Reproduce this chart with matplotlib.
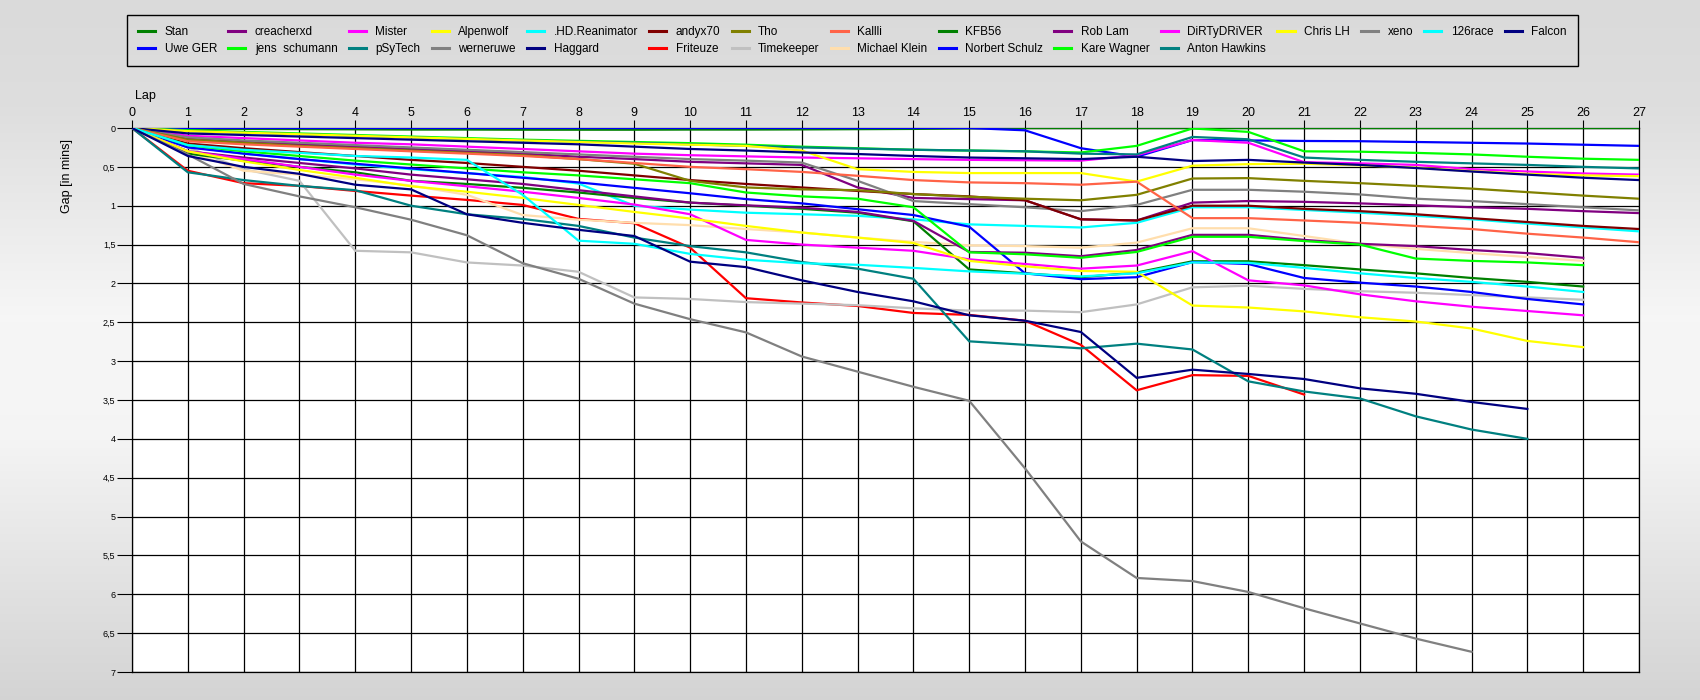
import matplotlib
matplotlib.use("Agg")
import matplotlib.pyplot as plt
import numpy as np

plt.rcParams['font.family'] = ['Liberation Sans', 'DejaVu Sans']

# ---------------- data (gap to leader in minutes, per lap) ----------------
names = ["Stan", "Uwe GER", "creacherxd", "jens  schumann", "Mister", "pSyTech",
         "Alpenwolf", "werneruwe", ".HD.Reanimator", "Haggard", "andyx70", "Friteuze",
         "Tho", "Timekeeper", "Kallli", "Michael Klein", "KFB56", "Norbert Schulz",
         "Rob Lam", "Kare Wagner", "DiRTyDRiVER", "Anton Hawkins", "Chris LH", "xeno",
         "126race", "Falcon"]

colors = ["#008000", "#0000FF", "#800080", "#00FF00", "#FF00FF", "#008080",
          "#FFFF00", "#808080", "#00FFFF", "#000080", "#800000", "#FF0000",
          "#808000", "#C0C0C0", "#FF6347", "#FFDEAD", "#008000", "#0000FF",
          "#800080", "#00FF00", "#FF00FF", "#008080", "#FFFF00", "#808080",
          "#00FFFF", "#000080"]

stan = [0, .01, .012, .015, .017, .02, .02, .022, .022, .022,
        .02, .02, .018, .015, .012, .005, 0, 0, 0, 0,
        0, 0, 0, 0, 0, 0, 0, 0]
uwe = [0, 0, 0, 0, 0, 0, 0, 0, 0, 0,
       0, 0, 0, 0, 0, 0, .03, .26, .37, .155,
       .16, .167, .17, .18, .19, .20, .215, .23]
creacherxd = [0, .13, .17, .21, .24, .27, .30, .33, .37, .40,
              .435, .455, .475, .765, .90, .915, .93, 1.175, 1.19, .96,
              .94, .95, .97, .995, 1.02, 1.04, 1.07, 1.095]
jens = [0, .03, .05, .07, .09, .11, .13, .15, .165, .18,
        .195, .215, .24, .26, .28, .29, .30, .315, .23, .006,
        .05, .30, .305, .32, .34, .37, .395, .41]
mister = [0, .10, .13, .16, .19, .21, .24, .27, .30, .33,
          .35, .365, .38, .39, .40, .41, .415, .42, .35, .155,
          .19, .44, .455, .475, .53, .56, .585, .60]
psytech = [0, .04, .06, .08, .10, .12, .14, .16, .175, .19,
           .21, .23, .25, .265, .28, .29, .30, .33, .34, .115,
           .145, .38, .41, .435, .455, .475, .50, .52]
alpenwolf = [0, .04, .06, .08, .10, .12, .14, .16, .18, .20,
             .215, .23, .29, .53, .565, .58, .58, .58, .69, .485,
             .465, .46, .48, .51, .555, .59, .61, .62]
werneruwe = [0, .12, .16, .19, .22, .25, .28, .31, .34, .37,
             .40, .42, .445, .68, .94, .98, 1.02, 1.07, .99, .795,
             .795, .82, .855, .91, .94, .98, 1.02, 1.06]
hd_reanimator = [0, .24, .33, .40, .47, .53, .58, .63, .715, 1.0,
                 1.05, 1.09, 1.11, 1.13, 1.175, 1.24, 1.26, 1.28, 1.22, 1.02,
                 1.02, 1.055, 1.09, 1.13, 1.175, 1.23, 1.28, 1.33]
haggard = [0, .07, .09, .11, .13, .15, .17, .19, .21, .24,
           .27, .29, .315, .335, .36, .38, .39, .40, .37, .425,
           .41, .445, .475, .515, .56, .60, .64, .67]
andyx70 = [0, .20, .26, .31, .36, .41, .45, .50, .55, .61,
           .67, .72, .765, .81, .85, .88, .93, 1.175, 1.19, 1.0,
           1.0, 1.04, 1.07, 1.11, 1.16, 1.21, 1.26, 1.30]
friteuze = [0, .55, .71, .745, .81, .87, .925, .99, 1.17, 1.225,
            1.54, 2.19, 2.245, 2.29, 2.38, 2.405, 2.48, 2.79, 3.375, 3.18,
            3.19, 3.43]
tho = [0, .15, .19, .23, .26, .29, .32, .35, .40, .46,
       .68, .765, .79, .80, .85, .885, .91, .93, .86, .65,
       .645, .68, .71, .745, .78, .825, .87, .91]
timekeeper = [0, .25, .53, .68, 1.58, 1.60, 1.73, 1.77, 1.85, 2.18,
              2.20, 2.24, 2.26, 2.28, 2.32, 2.35, 2.35, 2.37, 2.27, 2.05,
              2.03, 2.07, 2.10, 2.12, 2.15, 2.18, 2.21]
kallli = [0, .17, .21, .24, .27, .30, .33, .36, .40, .45,
          .50, .53, .565, .615, .67, .70, .71, .73, .69, 1.16,
          1.16, 1.19, 1.22, 1.26, 1.30, 1.36, 1.41, 1.47]
michael_klein = [0, .30, .55, .60, .66, .74, .86, 1.12, 1.18, 1.22,
                 1.25, 1.30, 1.345, 1.41, 1.465, 1.51, 1.52, 1.54, 1.475, 1.29,
                 1.29, 1.39, 1.49, 1.555, 1.61, 1.66, 1.71]
kfb56 = [0, .33, .42, .50, .57, .68, .72, .77, .83, .90,
         .96, 1.0, 1.04, 1.09, 1.20, 1.82, 1.87, 1.92, 1.86, 1.715,
         1.715, 1.765, 1.82, 1.87, 1.93, 1.98, 2.04]
norbert = [0, .25, .33, .40, .46, .52, .58, .64, .70, .77,
           .84, .915, .97, 1.045, 1.12, 1.27, 1.87, 1.945, 1.92, 1.725,
           1.75, 1.93, 1.99, 2.04, 2.11, 2.20, 2.27]
rob_lam = [0, .30, .38, .45, .52, .60, .66, .72, .80, .88,
           .96, .995, 1.025, 1.08, 1.195, 1.595, 1.605, 1.65, 1.57, 1.375,
           1.375, 1.44, 1.49, 1.52, 1.57, 1.61, 1.67]
kare = [0, .22, .30, .36, .42, .47, .52, .57, .61, .66,
        .71, .83, .88, .91, 1.02, 1.60, 1.625, 1.67, 1.595, 1.40,
        1.40, 1.455, 1.50, 1.68, 1.71, 1.73, 1.765]
dirty = [0, .30, .40, .50, .60, .68, .75, .82, .90, .985,
         1.11, 1.44, 1.50, 1.54, 1.58, 1.69, 1.75, 1.81, 1.77, 1.585,
         1.96, 2.025, 2.14, 2.23, 2.30, 2.355, 2.41]
anton = [0, .57, .67, .745, .80, 1.0, 1.11, 1.17, 1.26, 1.41,
         1.52, 1.60, 1.725, 1.81, 1.94, 2.745, 2.79, 2.835, 2.775, 2.85,
         3.26, 3.39, 3.48, 3.71, 3.88, 4.0]
chris = [0, .30, .43, .54, .64, .75, .82, .90, .99, 1.08,
         1.165, 1.26, 1.345, 1.41, 1.48, 1.71, 1.78, 1.84, 1.85, 2.285,
         2.31, 2.36, 2.435, 2.49, 2.58, 2.74, 2.82]
xeno = [0, .34, .72, .88, 1.02, 1.18, 1.38, 1.74, 1.94, 2.26,
        2.46, 2.63, 2.94, 3.135, 3.33, 3.51, 4.38, 5.32, 5.79, 5.83,
        5.97, 6.18, 6.375, 6.57, 6.74]
race126 = [0, .22, .28, .32, .36, .38, .41, .86, 1.45, 1.49,
           1.62, 1.695, 1.74, 1.76, 1.80, 1.845, 1.875, 1.91, 1.87, 1.73,
           1.735, 1.80, 1.87, 1.93, 1.98, 2.04, 2.11]
falcon = [0, .36, .50, .59, .73, .79, 1.11, 1.22, 1.31, 1.39,
          1.72, 1.79, 1.96, 2.11, 2.23, 2.41, 2.48, 2.625, 3.215, 3.11,
          3.165, 3.23, 3.35, 3.42, 3.525, 3.615]

series = [stan, uwe, creacherxd, jens, mister, psytech, alpenwolf, werneruwe,
          hd_reanimator, haggard, andyx70, friteuze, tho, timekeeper, kallli,
          michael_klein, kfb56, norbert, rob_lam, kare, dirty, anton, chris,
          xeno, race126, falcon]

laps = list(range(0, 28))
y_ticks = [i * 0.5 for i in range(15)]
y_labels = ["0", "0,5", "1", "1,5", "2", "2,5", "3", "3,5", "4", "4,5",
            "5", "5,5", "6", "6,5", "7"]

# ---------------- figure ----------------
W, H = 1700, 700
fig = plt.figure(figsize=(W / 100, H / 100), dpi=100)

# background gradient
bg = fig.add_axes([0, 0, 1, 1], zorder=-10)
stops_y = [0.0, 0.15, 0.45, 0.62, 0.85, 1.0]
stops_v = [0.855, 0.87, 0.965, 0.96, 0.88, 0.83]
yy = np.linspace(0, 1, 400)
vals = np.interp(yy, stops_y, stops_v)
grad = np.repeat(vals[:, None], 2, axis=1)
bg.imshow(np.dstack([grad, grad, grad]), aspect='auto', extent=[0, 1, 1, 0])
bg.set_xlim(0, 1)
bg.set_ylim(1, 0)
bg.axis('off')

L, R, T, B = 132, 1639, 128, 672
ax = fig.add_axes([L / W, 1 - B / H, (R - L) / W, (B - T) / H])
ax.set_facecolor('white')

handles = []
for name, col, vals_s in zip(names, colors, series):
    h, = ax.plot(laps[:len(vals_s)], vals_s, color=col, lw=1.6,
                 solid_joinstyle='miter', label=name, zorder=3)
    handles.append(h)

ax.set_xlim(0, 27)
ax.set_ylim(7, 0)
ax.set_xticks(laps)
ax.set_yticks(y_ticks)
ax.set_yticklabels(y_labels, fontsize=6.5)
ax.xaxis.tick_top()
ax.tick_params(axis='x', which='both', length=6, width=0.8, pad=0.5,
               labelsize=9, color='black')
ax.tick_params(axis='y', which='both', length=11, width=0.8, pad=1,
               color='black')
ax.grid(True, color='black', lw=0.9, zorder=1)
ax.set_axisbelow(True)
for s in ax.spines.values():
    s.set_color('black')
    s.set_linewidth(0.9)

fig.text(135 / W, 1 - 96 / H, "Lap", ha='left', va='center', fontsize=9)
fig.text(67 / W, 1 - 176 / H, "Gap [in mins]", ha='center', va='center',
         rotation=90, fontsize=9)

leg = fig.legend(handles=handles, loc='upper left',
                 bbox_to_anchor=(127 / W, 1 - 15 / H), ncol=15,
                 fontsize=8.5, frameon=True, fancybox=False,
                 handlelength=1.45, handletextpad=0.8, columnspacing=0.95,
                 borderpad=0.95, labelspacing=0.42, borderaxespad=0)
frame = leg.get_frame()
frame.set_alpha(None)
frame.set_facecolor('none')
frame.set_edgecolor('black')
frame.set_linewidth(1.0)
for ln in leg.get_lines():
    ln.set_linewidth(2.2)

fig.savefig("out.png", dpi=100)
